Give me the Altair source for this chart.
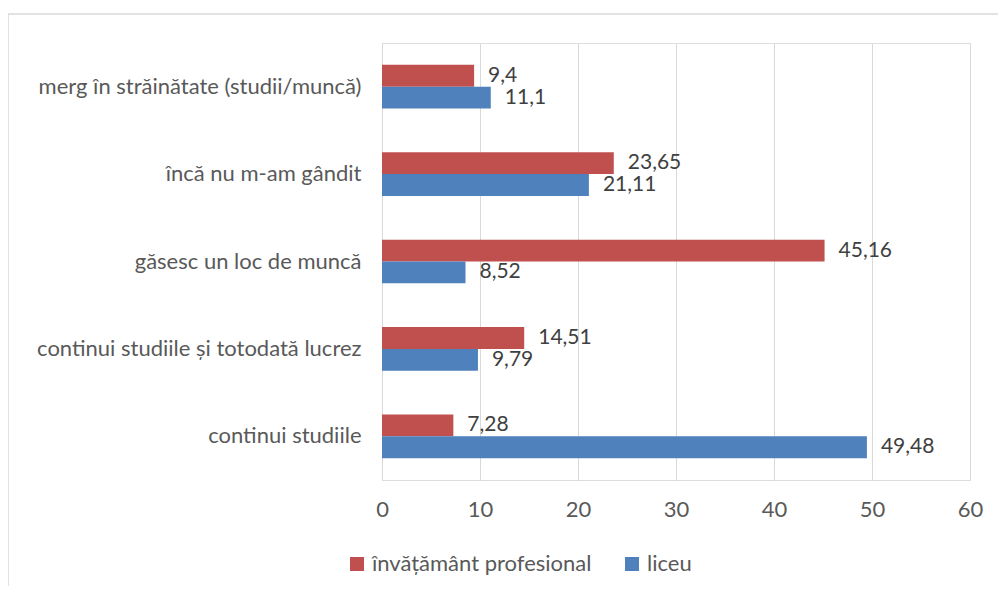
import altair as alt
import pandas as pd

categories = [
    "merg în străinătate (studii/muncă)",
    "încă nu m-am gândit",
    "găsesc un loc de muncă",
    "continui studiile și totodată lucrez",
    "continui studiile",
]
series = ["învățământ profesional", "liceu"]
prof = [9.4, 23.65, 45.16, 14.51, 7.28]
liceu = [11.1, 21.11, 8.52, 9.79, 49.48]
colors = ["#C0504D", "#4F81BD"]
x_ticks = [0, 10, 20, 30, 40, 50, 60]

rows = []
for c, p, l in zip(categories, prof, liceu):
    rows.append({"cat": c, "serie": series[0], "val": p})
    rows.append({"cat": c, "serie": series[1], "val": l})
df = pd.DataFrame(rows)

FONT = "Lato"
FS = 22
TXT = "#595959"

y_enc = alt.Y("cat:N", sort=categories, title=None,
              scale=alt.Scale(paddingInner=0.5, paddingOuter=0.25),
              axis=alt.Axis(domain=False, ticks=False, labelPadding=21,
                            labelFontSize=FS, labelColor=TXT, labelFont=FONT,
                            labelLimit=400))
yoff = alt.YOffset("serie:N", sort=series, scale=alt.Scale(paddingInner=0, paddingOuter=0))

base = alt.Chart(df)

bars = base.mark_bar().encode(
    y=y_enc,
    yOffset=yoff,
    x=alt.X("val:Q", title=None,
            scale=alt.Scale(domain=[0, 60], nice=False),
            axis=alt.Axis(values=x_ticks, domain=False, ticks=False, grid=True,
                          gridColor="#D9D9D9", gridWidth=1, labelPadding=19,
                          labelFlush=False, labelOverlap=False,
                          labelFontSize=FS, labelColor=TXT, labelFont=FONT)),
    color=alt.Color("serie:N", sort=series,
                    scale=alt.Scale(domain=series, range=colors),
                    legend=alt.Legend(title=None, orient="none", legendX=-36, legendY=510,
                                      direction="horizontal", symbolType="square",
                                      symbolSize=196, symbolStrokeWidth=0,
                                      labelFontSize=FS, labelColor=TXT, labelFont=FONT,
                                      labelLimit=400, columnPadding=29, labelOffset=4)),
)

labels = base.transform_calculate(
    lab="replace(toString(datum.val), '.', ',')"
).mark_text(align="left", baseline="middle", dx=14, fontSize=21, font=FONT, color="#404040").encode(
    y=alt.Y("cat:N", sort=categories),
    yOffset=alt.YOffset("serie:N", sort=series),
    x=alt.X("val:Q"),
    text="lab:N",
)

frame_top = alt.Chart(alt.Data(values=[{}])).mark_rule(
    stroke="#D9D9D9", strokeWidth=1.5
).encode(x=alt.value(-374), x2=alt.value(800), y=alt.value(-29))

frame_left = alt.Chart(alt.Data(values=[{}])).mark_rule(
    stroke="#D9D9D9", strokeWidth=1.5
).encode(x=alt.value(-374), y=alt.value(-29), y2=alt.value(700))

chart = alt.layer(frame_top, frame_left, bars, labels).properties(
    width=588, height=437,
    autosize=alt.AutoSizeParams(type="none"),
    padding={"left": 374, "top": 35, "right": 28, "bottom": 106},
).configure_view(strokeWidth=0, stroke="transparent").configure(background="white")

chart.save("out.html", embed_options={"renderer": "svg", "actions": False})
